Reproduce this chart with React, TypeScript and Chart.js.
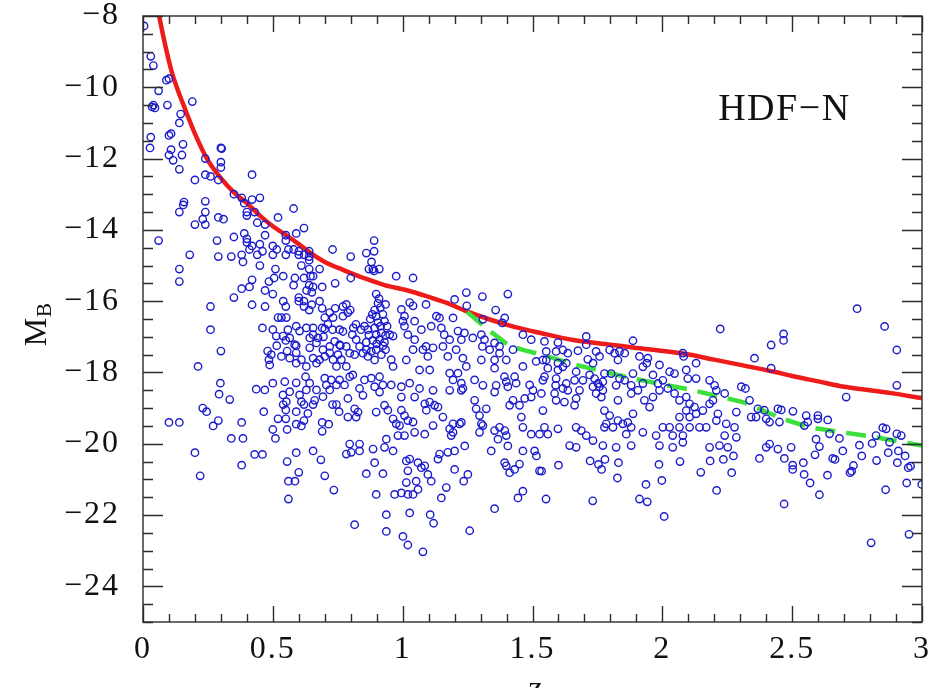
import React, { useEffect, useRef } from "react";
import { Chart, registerables } from "chart.js";

Chart.register(...registerables);

// ---------- data: (z_phot, M_B) ----------
const galaxiesVeryLowZ: [number, number][] = [
  [0.004,-8.28],[0.03,-9.13],[0.04,-9.39],[0.09,-9.8],[0.10,-9.76],[0.06,-10.1],[0.035,-10.55],[0.046,-10.58],[0.04,-10.5],[0.094,-10.5],
  [0.19,-10.4],[0.145,-10.75],[0.14,-11.0],[0.1,-11.35],[0.108,-11.3],[0.03,-11.4],[0.027,-11.7],[0.108,-11.75],[0.1,-11.9],[0.15,-11.9],
  [0.154,-11.6],[0.116,-12.05],[0.3,-11.7],[0.303,-11.72],[0.3,-12.1],[0.24,-12.0],[0.14,-12.3],[0.24,-12.45],[0.26,-12.5],[0.29,-12.6],
  [0.2,-12.6],[0.42,-12.45],[0.3,-12.25],[0.155,-13.3],[0.158,-13.22],[0.14,-13.5],[0.24,-13.2],[0.24,-13.5],[0.23,-13.7],[0.24,-13.85],
  [0.2,-13.85],[0.29,-13.65],[0.31,-13.7],[0.35,-13.0],[0.38,-13.1],[0.45,-13.1],[0.42,-13.15],[0.39,-13.25],[0.4,-13.5],[0.4,-13.6],
  [0.43,-13.5],[0.44,-13.8],[0.47,-13.85],[0.06,-14.3],[0.18,-14.7],[0.285,-14.3],[0.29,-14.75],[0.35,-14.2],[0.39,-14.1],[0.4,-14.25],
  [0.4,-14.35],[0.41,-14.55],[0.42,-14.45],[0.45,-14.4],[0.47,-14.15],[0.38,-14.7],[0.385,-14.9],[0.44,-14.7],[0.46,-14.6],[0.34,-14.75],
  [0.45,-15.0],[0.485,-15.45],[0.42,-15.4],[0.38,-15.65],[0.41,-15.6],[0.47,-15.7],[0.35,-15.9],[0.26,-16.15],[0.26,-16.8],[0.14,-15.1],
  [0.14,-15.45],[0.42,-16.1],[0.47,-16.15],[0.46,-16.75],[0.48,-17.4],[0.3,-17.4],
];

const galaxiesLowZUpper: [number, number][] = [
  [0.58,-13.4],[0.52,-13.65],[0.5,-14.45],[0.515,-14.55],[0.5,-14.7],[0.55,-14.15],[0.55,-14.3],[0.55,-14.7],[0.56,-14.55],[0.58,-14.55],
  [0.6,-14.6],[0.6,-14.7],[0.62,-14.7],[0.62,-13.95],[0.59,-14.1],[0.64,-14.6],[0.64,-14.75],[0.64,-14.85],[0.51,-15.1],[0.61,-15.0],
  [0.64,-15.1],[0.68,-15.1],[0.54,-15.3],[0.585,-15.35],[0.62,-15.35],[0.645,-15.3],[0.655,-15.3],[0.505,-15.35],[0.73,-14.55],[0.74,-15.5],
  [0.69,-15.6],[0.64,-15.55],[0.63,-15.7],[0.65,-15.75],[0.655,-15.6],[0.5,-15.8],[0.58,-15.55],[0.54,-16.0],[0.55,-16.15],[0.6,-15.9],
  [0.6,-16.0],[0.62,-16.0],[0.62,-16.15],[0.65,-16.1],[0.68,-16.0],[0.69,-16.2],[0.64,-16.25],[0.74,-16.2],[0.77,-16.15],[0.655,-16.75],
  [0.69,-16.75],[0.7,-16.78],[0.695,-17.0],[0.73,-16.8],[0.76,-17.25],[0.5,-16.8],[0.55,-17.1],[0.59,-17.25],[0.515,-17.25],[0.555,-17.4],
  [0.77,-16.85],[0.8,-14.75],[0.86,-14.65],[0.89,-14.6],[0.89,-14.3],[0.88,-14.9],[0.87,-15.1],[0.885,-15.1],[0.89,-15.15],[0.91,-15.1],
  [0.8,-15.35],[0.975,-15.3],[1.04,-15.35],
];

const galaxiesLowZLower: [number, number][] = [
  [0.642,-17.03],[0.642,-17.31],[0.668,-17.17],[0.693,-17.36],[0.719,-17.27],[0.738,-17.13],[0.757,-17.22],[0.712,-16.65],[0.7,-16.46],[0.719,-16.32],
  [0.732,-16.46],[0.757,-16.8],[0.52,-16.46],[0.533,-16.46],[0.552,-16.46],[0.513,-16.98],[0.539,-16.98],[0.558,-16.8],[0.59,-16.7],[0.603,-16.84],
  [0.629,-16.75],[0.655,-16.94],[0.674,-17.03],[0.565,-17.03],[0.584,-17.22],[0.212,-17.83],[0.298,-18.3],[0.293,-18.61],[0.334,-18.76],[0.436,-18.47],
  [0.469,-18.49],[0.494,-17.5],[0.485,-17.64],[0.488,-17.79],[0.533,-17.55],[0.565,-17.6],[0.59,-17.45],[0.59,-17.74],[0.61,-17.64],[0.629,-17.83],
  [0.655,-17.6],[0.668,-17.74],[0.68,-17.64],[0.7,-17.55],[0.719,-17.45],[0.732,-17.64],[0.751,-17.5],[0.745,-17.83],[0.764,-17.64],[0.5,-18.3],
  [0.546,-18.26],[0.59,-18.29],[0.626,-18.12],[0.642,-18.3],[0.7,-18.16],[0.706,-18.35],[0.725,-18.21],[0.745,-18.35],[0.757,-18.21],[0.719,-18.49],
  [0.668,-18.49],[0.629,-18.49],[0.565,-18.54],[0.539,-18.63],[0.603,-18.63],[0.693,-18.68],[0.661,-18.78],[0.552,-18.82],[0.61,-18.82],
  [0.23,-19.0],[0.245,-19.1],[0.27,-19.5],[0.29,-19.35],[0.1,-19.4],[0.14,-19.4],[0.34,-19.85],[0.385,-19.85],[0.38,-19.4],[0.2,-20.25],
  [0.43,-20.3],[0.46,-20.3],[0.22,-20.9],[0.38,-20.6],[0.465,-19.1],[0.5,-19.6],[0.51,-19.85],[0.52,-19.3],[0.55,-19.3],[0.54,-18.9],
  [0.55,-19.05],[0.555,-19.6],[0.59,-19.1],[0.59,-19.45],[0.61,-19.5],[0.62,-19.35],[0.555,-20.5],[0.56,-21.05],[0.585,-21.05],[0.6,-20.8],
  [0.56,-21.55],[0.59,-20.25],[0.655,-20.2],[0.685,-20.45],[0.7,-20.9],[0.735,-21.3],[0.655,-18.9],[0.62,-18.9],[0.635,-19.15],[0.69,-19.4],
  [0.69,-19.65],[0.715,-19.45],[0.73,-18.9],[0.755,-19.1],[0.745,-18.9],
];

const galaxiesMidZUpper: [number, number][] = [
  [0.783,-16.09],[0.789,-16.32],[0.798,-16.25],[0.77,-16.42],[0.82,-16.65],[0.81,-16.75],[0.84,-16.8],[0.853,-16.7],[0.866,-16.8],[0.898,-15.8],
  [0.909,-15.93],[0.905,-16.06],[0.914,-16.18],[0.934,-16.09],[0.892,-16.25],[0.883,-16.37],[0.898,-16.42],[0.924,-16.37],[0.93,-16.56],[0.905,-16.6],
  [0.892,-16.75],[0.898,-16.94],[0.918,-16.89],[0.934,-16.96],[0.911,-17.08],[0.924,-17.25],[0.898,-17.36],[0.879,-17.41],[0.86,-17.36],[0.847,-17.46],
  [0.834,-17.27],[0.821,-17.08],[0.806,-16.94],[0.783,-17.27],[0.796,-17.46],[0.815,-17.5],[0.866,-17.55],[0.892,-17.65],[0.918,-17.5],[0.934,-17.36],
  [0.95,-16.94],[0.963,-16.98],[0.956,-17.64],[0.963,-17.83],[0.783,-17.83],[0.796,-18.12],[0.808,-18.07],[0.776,-18.35],[0.853,-18.21],[0.879,-18.16],
  [0.911,-18.12],[0.924,-18.35],[0.956,-18.35],[0.995,-18.4],[0.995,-16.23],[1.007,-16.42],[1.001,-16.56],[1.027,-16.04],[1.04,-16.13],[1.046,-16.56],
  [1.072,-16.8],[1.09,-16.09],[1.11,-16.7],[1.13,-16.42],[1.142,-16.47],[1.007,-16.7],[1.02,-16.94],[1.046,-17.08],[1.04,-17.36],[1.09,-17.27],
  [1.117,-17.31],[1.097,-17.55],[1.078,-17.36],[1.014,-17.65],[1.065,-17.93],[1.104,-17.93],[1.027,-18.3],[1.149,-16.75],[1.16,-16.94],[1.181,-17.08],
  [1.155,-17.27],[1.174,-17.55],[1.206,-17.36],[1.226,-17.08],[1.194,-16.47],[1.213,-16.84],[1.238,-16.89],[1.2,-15.95],[1.245,-15.76],[1.247,-16.13],
  [1.307,-15.87],[1.405,-15.8],[1.358,-16.25],[1.393,-16.47],[1.384,-16.61],[1.309,-16.51],[1.27,-17.03],[1.303,-16.94],[1.315,-17.08],[1.307,-17.27],
  [1.335,-17.36],[1.354,-17.17],[1.373,-17.27],[1.354,-17.65],[1.373,-17.46],[1.399,-17.65],[1.425,-17.36],[1.463,-16.94],[1.495,-17.08],[1.514,-17.69],
  [1.463,-17.83],[1.431,-18.12],[1.392,-18.12],[1.354,-17.88],[1.303,-17.65],[1.232,-17.6],[1.245,-17.83],[1.213,-18.02],[1.181,-18.02],[1.194,-18.21],
  [1.226,-18.3],[1.277,-18.21],[1.399,-18.26],[1.437,-18.3],[1.489,-18.35],[0.875,-16.5],[0.915,-16.7],[0.9,-17.2],[0.885,-17.1],[0.93,-17.15],
  [0.87,-16.95],[0.94,-16.7],[0.86,-17.15],
];

const galaxiesMidZLower: [number, number][] = [
  [0.789,-18.73],[0.789,-19.25],[0.815,-19.02],[0.828,-19.11],[0.821,-19.25],[0.834,-18.45],[0.847,-18.64],[0.892,-18.4],[0.911,-18.55],[0.898,-19.11],
  [0.93,-18.92],[0.943,-19.06],[0.963,-19.3],[0.975,-19.44],[0.995,-18.69],[0.995,-19.06],[1.007,-19.21],[1.02,-19.35],[1.04,-19.39],[1.046,-18.69],
  [1.065,-18.45],[1.085,-18.88],[1.091,-19.06],[1.104,-18.83],[1.117,-18.5],[1.123,-18.92],[1.136,-18.97],[1.155,-19.25],[1.117,-19.49],[1.085,-19.73],
  [1.046,-19.68],[1.007,-19.77],[0.982,-19.77],[0.988,-19.49],[0.937,-19.87],[0.963,-20.2],[0.93,-20.1],[0.886,-20.15],[0.834,-20.01],[0.796,-20.01],
  [0.783,-20.29],[0.802,-20.24],[0.834,-20.2],[0.892,-20.53],[0.86,-20.84],[0.924,-20.84],[0.898,-21.42],[0.937,-21.99],[0.815,-22.27],[0.937,-22.46],
  [1.001,-22.6],[1.02,-22.84],[1.078,-23.03],[1.027,-21.94],[1.106,-21.99],[1.119,-22.23],[0.969,-21.42],[0.995,-21.38],[1.02,-21.42],[1.04,-21.42],
  [1.059,-21.28],[1.052,-21.05],[1.014,-21.09],[1.02,-20.76],[1.014,-20.48],[1.027,-20.43],[1.059,-20.53],[1.072,-20.67],[1.085,-20.62],[1.097,-20.86],
  [1.11,-21.05],[1.142,-20.29],[1.136,-20.43],[1.174,-20.24],[1.2,-20.2],[1.2,-20.72],[1.239,-20.06],[1.251,-20.86],[1.235,-21.05],[1.168,-21.23],
  [1.149,-21.52],[1.181,-19.58],[1.187,-19.77],[1.194,-19.68],[1.219,-19.44],[1.226,-19.4],[1.194,-19.44],[1.181,-18.5],[1.226,-18.5],[1.232,-18.45],
  [1.277,-18.78],[1.283,-19.02],[1.296,-19.21],[1.322,-19.02],[1.303,-19.44],[1.296,-19.68],[1.309,-19.49],[1.341,-20.2],[1.354,-19.63],[1.367,-19.87],
  [1.373,-19.54],[1.393,-19.63],[1.399,-19.77],[1.405,-20.06],[1.412,-18.92],[1.425,-18.78],[1.45,-18.92],[1.457,-19.25],[1.463,-19.54],[1.495,-19.73],
  [1.527,-19.73],[1.47,-18.73],[1.495,-18.69],[1.502,-18.5],[1.534,-18.59],[1.393,-20.53],[1.399,-20.62],[1.412,-20.81],[1.431,-20.72],[1.45,-20.57],
  [1.463,-20.2],[1.508,-20.2],[1.515,-20.34],[1.527,-20.76],[1.444,-21.52],[1.463,-21.33],[1.354,-21.82],[1.258,-22.44],[1.309,-18.36],[1.354,-18.55],
  [1.36,-18.36],[1.405,-18.4],
];

const galaxiesHighZ: [number, number][] = [
  [2.223,-16.78],[1.707,-16.99],[1.887,-17.11],[1.598,-17.16],[1.546,-17.13],[2.079,-17.46],[2.082,-17.55],[2.13,-17.74],[1.553,-17.41],[1.591,-17.41],
  [1.617,-17.37],[1.636,-17.46],[1.675,-17.39],[1.707,-17.22],[1.745,-17.41],[1.758,-17.55],[1.713,-17.63],[1.733,-17.74],[1.797,-17.37],[1.816,-17.46],
  [1.835,-17.41],[1.855,-17.46],[1.829,-17.65],[1.912,-17.55],[1.944,-17.6],[1.94,-17.74],[1.925,-17.84],[1.989,-17.79],[2.028,-17.98],[2.047,-18.03],
  [2.092,-17.93],[2.098,-18.17],[2.13,-18.17],[1.54,-17.65],[1.553,-17.65],[1.598,-17.74],[1.617,-17.84],[1.63,-17.74],[1.598,-17.93],[1.559,-17.88],
  [1.546,-18.12],[1.54,-18.22],[1.591,-18.17],[1.589,-18.36],[1.617,-18.45],[1.636,-18.5],[1.63,-18.31],[1.668,-17.98],[1.662,-18.22],[1.694,-18.22],
  [1.72,-18.07],[1.739,-18.17],[1.752,-18.31],[1.771,-18.26],[1.777,-18.03],[1.733,-18.4],[1.758,-18.4],[1.745,-18.59],[1.771,-18.5],[1.765,-18.69],
  [1.803,-18.03],[1.835,-18.17],[1.855,-18.22],[1.887,-18.03],[1.88,-18.36],[1.88,-18.59],[1.906,-18.5],[1.822,-18.36],[1.829,-18.78],[1.925,-18.31],
  [1.964,-18.07],[1.983,-18.31],[2.002,-18.22],[2.021,-18.45],[1.989,-18.5],[1.964,-18.69],[1.931,-18.78],[1.951,-18.97],[2.047,-18.59],[2.066,-18.78],
  [2.092,-18.69],[2.105,-18.88],[2.124,-18.97],[2.092,-19.07],[2.066,-19.25],[2.105,-19.25],[2.13,-19.16],[2.156,-19.07],[2.182,-18.22],[2.201,-18.36],
  [2.208,-18.5],[2.24,-18.59],[2.195,-18.78],[2.182,-18.88],[2.285,-19.11],[2.304,-18.4],[2.278,-19.54],[2.246,-19.44],[2.208,-19.35],[2.214,-19.16],
  [2.169,-19.54],[2.24,-19.77],[2.285,-19.82],[2.252,-20.1],[2.182,-20.1],[2.22,-20.05],[1.54,-19.07],[1.546,-19.54],[1.559,-19.73],[1.598,-19.58],
  [1.668,-19.54],[1.688,-19.63],[1.707,-19.77],[1.668,-20.1],[1.643,-20.05],[1.777,-19.07],[1.797,-19.21],[1.784,-19.44],[1.777,-19.54],[1.81,-19.54],
  [1.829,-19.35],[1.848,-19.44],[1.867,-19.4],[1.887,-19.16],[1.88,-19.54],[1.861,-19.73],[1.88,-20.05],[1.925,-19.68],[1.976,-19.77],[2.002,-19.54],
  [2.028,-19.54],[2.04,-19.77],[2.066,-19.54],[2.079,-19.77],[1.989,-20.05],[2.04,-20.1],[2.079,-19.96],[2.105,-19.54],[2.143,-19.54],[1.771,-20.05],
  [1.822,-20.1],[1.733,-19.91],[1.585,-18.59],[1.591,-18.78],[1.623,-18.83],[1.668,-18.73],[1.662,-18.92],[1.681,-18.5],
];

const galaxiesVeryHighZ: [number, number][] = [
  [2.75,-16.21],[2.856,-16.71],[2.903,-17.37],[2.903,-18.36],[2.708,-18.69],[2.467,-16.92],[2.467,-17.1],[2.419,-17.23],[2.355,-17.6],[2.419,-17.88],
  [2.32,-18.45],[2.336,-18.78],[2.368,-19.02],[2.393,-19.06],[2.361,-19.25],[2.342,-19.25],[2.445,-19.02],[2.458,-19.05],[2.503,-19.09],[2.451,-19.39],
  [2.413,-19.39],[2.4,-19.3],[2.554,-19.21],[2.56,-19.39],[2.599,-19.21],[2.599,-19.3],[2.637,-19.33],[2.547,-19.49],[2.644,-19.72],[2.682,-19.85],
  [2.592,-19.87],[2.605,-20.08],[2.496,-20.1],[2.413,-20.01],[2.4,-20.1],[2.445,-20.15],[2.759,-20.04],[2.808,-19.99],[2.823,-19.77],[2.849,-19.55],
  [2.862,-19.58],[2.903,-19.72],[2.92,-19.77],[2.875,-19.96],
  [1.552,-21.55],[1.6,-20.6],[1.535,-20.77],[1.732,-21.6],[1.722,-20.48],[1.754,-20.58],[1.766,-20.72],[1.779,-20.44],[1.827,-20.96],[1.831,-20.53],
  [1.912,-21.55],[1.942,-21.63],[1.937,-21.14],[1.998,-21.03],[2.007,-22.04],[1.987,-20.58],[2.068,-20.5],[2.148,-20.8],[2.209,-21.31],[2.267,-20.81],
  [2.274,-20.34],[2.235,-20.44],[2.184,-20.48],[2.374,-20.41],[2.469,-21.69],[2.47,-20.41],[2.502,-20.6],[2.502,-20.72],[2.546,-20.86],[2.569,-21.1],
  [2.605,-21.43],[2.543,-20.53],[2.588,-20.31],[2.636,-20.88],[2.656,-20.41],[2.665,-20.44],[2.695,-20.2],[2.723,-20.81],[2.729,-20.77],[2.736,-20.61],
  [2.768,-20.34],[2.804,-22.78],[2.825,-20.47],[2.86,-21.29],[2.87,-20.25],[2.905,-20.53],[2.909,-20.2],[2.935,-20.34],[2.941,-21.1],[2.947,-20.67],
  [2.956,-20.63],[2.95,-22.54],[2.999,-21.14],
];

// red limiting-magnitude curve
const limitZ = [0.062,0.085,0.11,0.135,0.154,0.2,0.246,0.3,0.35,0.4,0.45,0.5,0.552,0.6,0.642,0.7,0.77,0.85,0.93,1.02,1.1,1.17,1.245,1.33,1.43,1.535,1.657,1.8,1.887,2.08,2.2,2.31,2.43,2.5,2.6,2.7,2.77,2.88,3.0];
const limitM = [-8.0,-8.8,-9.55,-10.1,-10.46,-11.3,-12.0,-12.55,-12.95,-13.25,-13.6,-13.9,-14.15,-14.4,-14.63,-14.9,-15.12,-15.35,-15.55,-15.7,-15.88,-16.05,-16.28,-16.5,-16.72,-16.9,-17.09,-17.22,-17.3,-17.47,-17.64,-17.8,-17.98,-18.1,-18.25,-18.4,-18.47,-18.58,-18.72];

// green dashed curve
const fitZ = [1.248,1.32,1.41,1.47,1.55,1.668,1.887,2.118,2.31,2.464,2.567,2.823,3.0];
const fitM = [-16.3,-16.75,-17.25,-17.38,-17.53,-17.79,-18.17,-18.5,-18.83,-19.3,-19.54,-19.82,-20.05];

const xTickValues = [0, 0.5, 1, 1.5, 2, 2.5, 3];
const xTickLabels = ["0", "0.5", "1", "1.5", "2", "2.5", "3"];
const yTickValues = [-24, -22, -20, -18, -16, -14, -12, -10, -8];
const yTickLabels = ["\u221224", "\u221222", "\u221220", "\u221218", "\u221216", "\u221214", "\u221212", "\u221210", "\u22128"];
const fieldLabel = "HDF\u2212N";
const fieldLabelPos = { z: 2.47, m: -10.65 };
const xMin = 0, xMax = 3, yMin = -25, yMax = -8;

const FONT = "'Liberation Serif', 'DejaVu Serif', serif";

const spacingPlugin = {
  id: "spacing",
  beforeDraw(chart: any) { (chart.ctx as any).letterSpacing = "2px"; },
  afterDraw(chart: any) { (chart.ctx as any).letterSpacing = "0px"; },
};

const framePlugin = {
  id: "frame",
  afterDatasetsDraw(chart: any) {
    const { ctx, chartArea: a, scales } = chart;
    const x = scales.x, y = scales.y;
    ctx.save();
    ctx.strokeStyle = "#2b2b2b";
    ctx.lineWidth = 1.4;
    ctx.strokeRect(a.left, a.top, a.right - a.left, a.bottom - a.top);
    ctx.beginPath();
    for (let i = 0; i <= 30; i++) {
      const v = i / 10;
      const px = Math.round(x.getPixelForValue(v)) + 0.5;
      const len = i % 5 === 0 ? 16 : 8;
      ctx.moveTo(px, a.bottom); ctx.lineTo(px, a.bottom - len);
      ctx.moveTo(px, a.top); ctx.lineTo(px, a.top + len);
    }
    for (let i = 0; i <= 34; i++) {
      const v = yMin + i * 0.5;
      const py = Math.round(y.getPixelForValue(v)) + 0.5;
      const len = Math.abs(v % 2) === 0 ? 20 : 10;
      ctx.moveTo(a.left, py); ctx.lineTo(a.left + len, py);
      ctx.moveTo(a.right, py); ctx.lineTo(a.right - len, py);
    }
    ctx.stroke();

    ctx.fillStyle = "#111";
    (ctx as any).letterSpacing = "1.5px";
    ctx.font = `38px ${FONT}`;
    ctx.textAlign = "center";
    ctx.textBaseline = "middle";
    ctx.fillText(fieldLabel, x.getPixelForValue(fieldLabelPos.z), y.getPixelForValue(fieldLabelPos.m));
    (ctx as any).letterSpacing = "0px";

    // y title M_B
    ctx.save();
    ctx.translate(46, 332);
    ctx.rotate(-Math.PI / 2);
    ctx.textAlign = "center";
    ctx.textBaseline = "alphabetic";
    ctx.font = `32px ${FONT}`;
    ctx.fillText("M", 0, 0);
    ctx.textAlign = "left";
    ctx.font = `21px ${FONT}`;
    ctx.fillText("B", 15, 5);
    ctx.restore();

    // x title z_phot (mostly below the canvas edge)
    const cx = (a.left + a.right) / 2;
    ctx.textAlign = "left";
    ctx.textBaseline = "alphabetic";
    ctx.font = `32px ${FONT}`;
    ctx.fillText("z", cx - 4, 698);
    ctx.font = `21px ${FONT}`;
    ctx.fillText("phot", cx + 12, 704);
    ctx.restore();
  },
};

const toPts = (arr: [number, number][]) => arr.map(([z, m]) => ({ x: z, y: m }));

export default function App() {
  const ref = useRef<HTMLCanvasElement | null>(null);
  useEffect(() => {
    if (!ref.current) return;
    const allGalaxies = [
      ...galaxiesVeryLowZ, ...galaxiesLowZUpper, ...galaxiesLowZLower, ...galaxiesMidZUpper,
      ...galaxiesMidZLower, ...galaxiesHighZ, ...galaxiesVeryHighZ,
    ];
    const chart = new Chart(ref.current, {
      type: "scatter",
      data: {
        datasets: [
          {
            label: "galaxies",
            data: toPts(allGalaxies),
            pointStyle: "circle",
            pointRadius: 3.7,
            pointBorderWidth: 1.4,
            borderColor: "rgb(28,28,205)",
            backgroundColor: "rgba(0,0,0,0)",
            order: 0,
          } as any,
          {
            label: "limit",
            data: limitZ.map((z, i) => ({ x: z, y: limitM[i] })),
            showLine: true,
            borderColor: "#ee1b1b",
            borderWidth: 4.5,
            pointRadius: 0,
            cubicInterpolationMode: "monotone",
            order: 2,
          } as any,
          {
            label: "fit",
            data: fitZ.map((z, i) => ({ x: z, y: fitM[i] })),
            showLine: true,
            borderColor: "#3be03b",
            borderWidth: 4.5,
            borderDash: [20, 11],
            pointRadius: 0,
            order: 1,
          } as any,
        ],
      },
      options: {
        responsive: false,
        animation: false,
        layout: { padding: { top: 16, right: 12, left: 0, bottom: 0 } },
        plugins: { legend: { display: false }, tooltip: { enabled: false } },
        scales: {
          x: {
            type: "linear",
            min: xMin,
            max: xMax,
            afterBuildTicks: (s: any) => { s.ticks = xTickValues.map((v) => ({ value: v })); },
            afterFit: (s: any) => { s.height = 66; s.paddingLeft = 0; s.paddingRight = 0; },
            ticks: {
              autoSkip: false,
              maxRotation: 0,
              padding: 8,
              color: "#111",
              font: { family: FONT, size: 32 },
              callback: (_v: any, i: number) => xTickLabels[i],
            },
            grid: { display: false, drawTicks: false },
            border: { display: false },
          },
          y: {
            type: "linear",
            min: yMin,
            max: yMax,
            afterBuildTicks: (s: any) => { s.ticks = yTickValues.map((v) => ({ value: v })); },
            afterFit: (s: any) => { s.width = 143; s.paddingTop = 0; s.paddingBottom = 0; },
            ticks: {
              autoSkip: false,
              padding: 23,
              color: "#111",
              font: { family: FONT, size: 32 },
              callback: (_v: any, i: number) => yTickLabels[i],
            },
            grid: { display: false, drawTicks: false },
            border: { display: false },
          },
        },
      },
      plugins: [spacingPlugin, framePlugin],
    });
    return () => chart.destroy();
  }, []);
  return (
    <div style={{ position: "fixed", left: 0, top: 0, width: 934, height: 688, background: "#fff" }}>
      <canvas ref={ref} width={934} height={688} style={{ width: 934, height: 688, display: "block" }} />
    </div>
  );
}
